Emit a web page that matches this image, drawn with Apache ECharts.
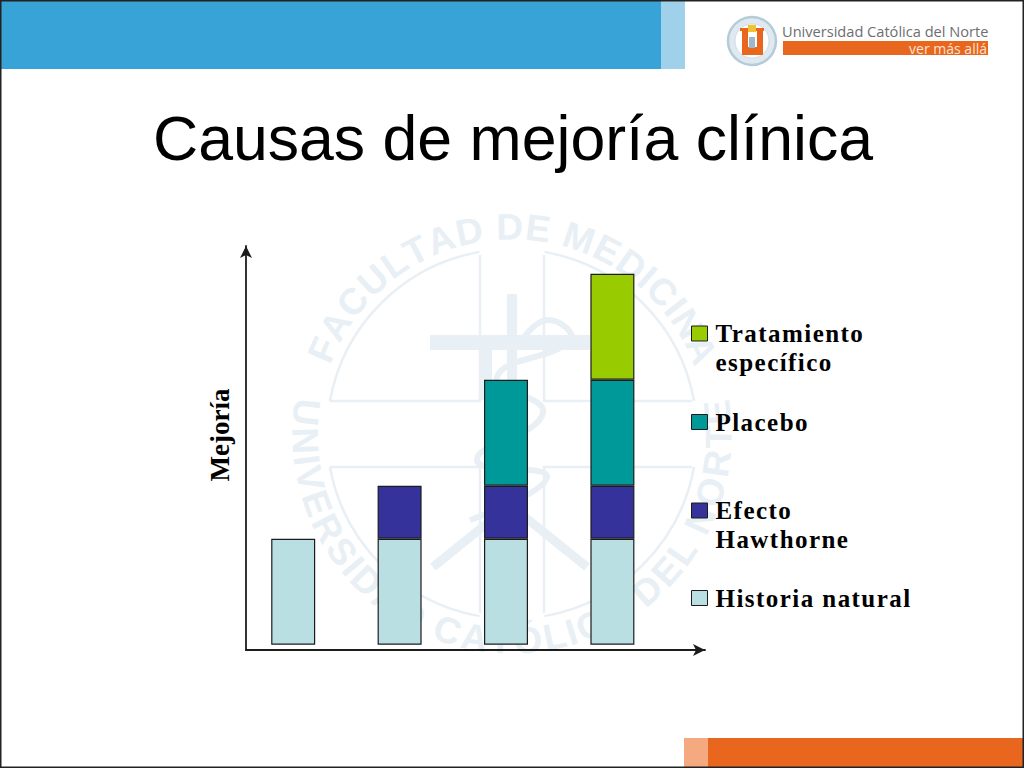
<!DOCTYPE html>
<html>
<head>
<meta charset="utf-8">
<style>
html, body { margin: 0; padding: 0; background: #fff; }
#chart { width: 1024px; height: 768px; }
/* the legend text of the slide is tracked out, the options have no setting for it */
#chart text[style*="25px"] { letter-spacing: 1.45px; }
</style>
<script src="https://cdn.jsdelivr.net/npm/echarts@6/dist/echarts.min.js"></script>
</head>
<body>
<div id="chart"></div>
<script>
const categories = ['1', '2', '3', '4'];
const historiaNatural = [2, 2, 2, 2];
const efectoHawthorne = [null, 1, 1, 1];
const placebo = [null, null, 2, 2];
const tratamiento = [null, null, null, 2];

const seriesNames = ['Historia natural', 'Efecto\nHawthorne', 'Placebo', 'Tratamiento\nespecífico'];
const seriesColors = ['#b9dfe2', '#35339b', '#009999', '#99cc00'];
const legendTops = [583.5, 467, 407.5, 290];

const ink = '#1c1c1c';
const wmColor = '#e8eff5';
const wmCx = 512, wmCy = 434;
const wmFont = 'bold 37px "Liberation Sans"';

// letters around the seal, angle in degrees clockwise from straight up.
// spaced by their real widths so the narrow I and the blanks do not leave holes
function arcText(text, radius, from, to, flip) {
    const ctx = document.createElement('canvas').getContext('2d');
    ctx.font = wmFont;
    const letters = text.split('');
    const widths = letters.map(ch => ctx.measureText(ch).width);
    const total = widths.reduce((a, b) => a + b, 0) - widths[0] / 2 - widths[widths.length - 1] / 2;
    let run = -widths[0] / 2;
    return letters.map((ch, i) => {
        run += widths[i] / 2;
        const deg = from + (to - from) * run / total;
        run += widths[i] / 2;
        const rad = deg * Math.PI / 180;
        return {
            type: 'text',
            silent: true,
            x: wmCx + radius * Math.sin(rad),
            y: wmCy - radius * Math.cos(rad),
            rotation: flip ? -(deg - 180) * Math.PI / 180 : -rad,
            style: { text: ch, fill: wmColor, font: wmFont, align: 'center', verticalAlign: 'middle' }
        };
    });
}

function rect(x, y, w, h, fill) {
    return { type: 'rect', silent: true, shape: { x, y, width: w, height: h }, style: { fill } };
}

function sealArc(a0, a1) {
    return {
        type: 'arc', silent: true,
        shape: { cx: wmCx, cy: wmCy, r: 185, startAngle: a0 * Math.PI / 180, endAngle: a1 * Math.PI / 180 },
        style: { stroke: wmColor, lineWidth: 2.5, fill: 'none' }
    };
}

function stroke(points, lineWidth, smooth) {
    return {
        type: 'polyline', silent: true,
        shape: { points, smooth: smooth || 0 },
        style: { stroke: wmColor, lineWidth, fill: 'none' }
    };
}

const watermark = [
    ...arcText('FACULTAD DE MEDICINA', 207, -66, 66, false),
    ...arcText('UNIVERSIDAD CATÓLICA DEL NORTE', 207, 276, 84, true),
    // the four quarters of the seal
    sealArc(190.3, 259.9),
    sealArc(280.1, 349.7),
    sealArc(10.3, 79.9),
    sealArc(100.1, 169.7),
    stroke([[330, 401], [480, 401], [480, 255]], 2.5),
    stroke([[692, 401], [544, 401], [544, 255]], 2.5),
    stroke([[330, 467], [480, 467], [480, 613]], 2.5),
    stroke([[692, 467], [544, 467], [544, 613]], 2.5),
    // cross and staff
    rect(430, 335, 160, 15, wmColor),
    rect(507, 294, 10, 250, wmColor),
    rect(480, 350, 12, 50, wmColor),
    stroke([[520, 343], [547, 320], [570, 340], [497, 377], [543, 413], [477, 460], [547, 477], [470, 520]], 6, 0.5),
    stroke([[433, 567], [510, 505], [587, 567]], 9)
];

const chrome = [
    rect(0, 0, 1024, 768, '#ffffff'),
    ...watermark,
    rect(0, 0, 661, 69, '#37a3d6'),
    rect(661, 0, 24, 69, '#9fd2ea'),
    rect(684, 738, 24, 30, '#f4a981'),
    rect(708, 738, 316, 30, '#e9661f'),
    rect(0, 0, 1024, 1.5, '#222222'),
    rect(0, 0, 1.5, 768, '#222222'),
    rect(1022.5, 0, 1.5, 768, '#222222'),
    rect(0, 766.5, 1024, 1.5, '#222222'),
    // logo
    { type: 'circle', silent: true, shape: { cx: 752, cy: 41, r: 24 }, style: { fill: '#dfe9ef', stroke: '#b4cbd9', lineWidth: 2.5 } },
    { type: 'circle', silent: true, shape: { cx: 752, cy: 41, r: 17 }, style: { fill: '#ffffff', stroke: '#cfdde6', lineWidth: 1 } },
    rect(740, 28, 9, 3, '#e9661f'),
    rect(755, 28, 9, 3, '#e9661f'),
    rect(742, 28, 6, 25, '#e9661f'),
    rect(757, 28, 6, 25, '#e9661f'),
    rect(742, 47, 21, 8, '#e9661f'),
    rect(749, 37, 6, 11, '#9db8c8'),
    rect(748, 25, 8, 7, '#f2c230'),
    rect(783, 41, 205, 14, '#e9661f'),
    { type: 'text', silent: true, x: 782, y: 31, style: { text: 'Universidad Católica del Norte', fill: '#6d6e70', font: '14.6px "Open Sans"', align: 'left', verticalAlign: 'middle' } },
    { type: 'text', silent: true, x: 987, y: 48.5, style: { text: 'ver más allá', fill: '#fbe3d2', font: '14px "Open Sans"', align: 'right', verticalAlign: 'middle' } },
    // title
    { type: 'text', silent: true, x: 513, y: 138, style: { text: 'Causas de mejoría clínica', fill: '#000000', font: '62.6px "Liberation Sans"', align: 'center', verticalAlign: 'middle' } },
    // y axis name
    { type: 'text', silent: true, x: 220, y: 435, rotation: Math.PI / 2, style: { text: 'Mejoría', fill: '#000000', font: 'bold 27px "Liberation Serif"', align: 'center', verticalAlign: 'middle' } }
];

const chart = echarts.init(document.getElementById('chart'), null, { renderer: 'svg' });

const values = [historiaNatural, efectoHawthorne, placebo, tratamiento];

chart.setOption({
    animation: false,
    backgroundColor: 'transparent',
    graphic: { elements: chrome.map(el => ({ ...el, z: -10, zlevel: 0 })) },
    legend: seriesNames.map((name, i) => ({
        data: [name],
        left: 691,
        top: legendTops[i],
        padding: 0,
        itemWidth: 16,
        itemHeight: 15,
        itemGap: 0,
        selectedMode: false,
        icon: 'rect',
        itemStyle: { borderColor: ink, borderWidth: 1 },
        textStyle: { color: '#000', fontFamily: 'Liberation Serif', fontWeight: 'bold', fontSize: 25, lineHeight: 29, padding: [0, 0, 0, 3] },
        // blank first line keeps the swatch next to the first line of two-line names
        formatter: n => (n.includes('\n') ? ' \n' : '') + n
    })),
    grid: [
        { left: 240, width: 425.6, top: 246, height: 404 },
        { left: 246, width: 459, top: 246, height: 404 }
    ],
    xAxis: [
        { type: 'category', gridIndex: 0, data: categories, axisLine: { show: false }, axisTick: { show: false }, axisLabel: { show: false } },
        {
            type: 'value', gridIndex: 1, min: 0, max: 1, splitLine: { show: false }, axisTick: { show: false }, axisLabel: { show: false },
            axisLine: { show: true, onZero: false, symbol: ['none', 'arrow'], symbolSize: [9, 12], lineStyle: { color: ink, width: 1.8 } }
        }
    ],
    yAxis: [
        { type: 'value', gridIndex: 0, min: -0.1, max: 7.523, show: false },
        {
            type: 'value', gridIndex: 1, min: 0, max: 1, splitLine: { show: false }, axisTick: { show: false }, axisLabel: { show: false },
            axisLine: { show: true, onZero: false, symbol: ['none', 'arrow'], symbolSize: [9, 12], lineStyle: { color: ink, width: 1.8 } }
        }
    ],
    series: seriesNames.map((name, i) => ({
        name,
        type: 'bar',
        stack: 'causas',
        xAxisIndex: 0,
        yAxisIndex: 0,
        barWidth: 44,
        data: values[i],
        itemStyle: { color: seriesColors[i], borderColor: ink, borderWidth: 1.2 }
    }))
});
</script>
</body>
</html>
